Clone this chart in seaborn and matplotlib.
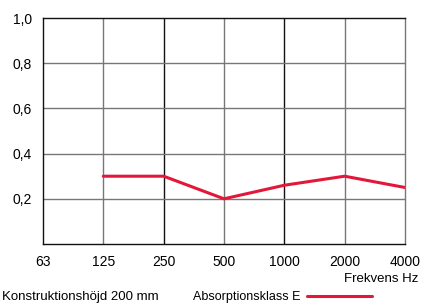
import numpy as np
import pandas as pd
import matplotlib
matplotlib.use("Agg")
import matplotlib.pyplot as plt
import seaborn as sns

freq_labels = ["63", "125", "250", "500", "1000", "2000", "4000"]
freqs = ["125", "250", "500", "1000", "2000", "4000"]
alpha_p = [0.30, 0.30, 0.20, 0.26, 0.30, 0.25]
y_ticks = [0.2, 0.4, 0.6, 0.8, 1.0]
y_labels = ["0,2", "0,4", "0,6", "0,8", "1,0"]

sns.set_theme(style="white")
plt.rcParams["font.family"] = ["Liberation Sans Narrow", "Liberation Sans", "DejaVu Sans"]
plt.rcParams["text.color"] = "black"
plt.rcParams["xtick.color"] = "black"
plt.rcParams["ytick.color"] = "black"

red = "#e3173a"
df = pd.DataFrame({"x": [freq_labels.index(f) for f in freqs], "y": alpha_p})

fig = plt.figure(figsize=(4.32, 3.06), dpi=100)
ax = fig.add_axes([43 / 432, 1 - 244 / 306, 362 / 432, 226 / 306])
sns.lineplot(data=df, x="x", y="y", color=red, linewidth=2.2, ax=ax)

ax.set_xlim(0, len(freq_labels) - 1)
ax.set_ylim(0, 1.0)
ax.set_xticks(range(len(freq_labels)))
ax.set_xticklabels(freq_labels, fontsize=10, color="black")
ax.set_yticks(y_ticks)
ax.set_yticklabels(y_labels, fontsize=10, color="black")
ax.tick_params(axis="x", length=0, pad=8)
ax.tick_params(axis="y", length=0, pad=8)
ax.set_xlabel("")
ax.set_ylabel("")

for i in range(1, len(freq_labels) - 1):
    ax.axvline(i, color="#111111" if i % 2 == 0 else "#777777", lw=1, zorder=0)
for v in y_ticks[:-1]:
    ax.axhline(v, color="#777777", lw=1, zorder=0)
for s in ax.spines.values():
    s.set_color("#111111")
    s.set_linewidth(1)
ax.spines["right"].set_color("#777777")

fig.text(418 / 432, 1 - 279 / 306, "Frekvens Hz", ha="right", va="center", fontsize=9.5)
fig.text(2 / 432, 1 - 297 / 306, "Konstruktionshöjd 200 mm", ha="left", va="center", fontsize=9.5)
fig.text(193 / 432, 1 - 297 / 306, "Absorptionsklass E", ha="left", va="center", fontsize=9)
fig.add_artist(plt.Line2D([307 / 432, 372 / 432], [1 - 296 / 306] * 2, color=red, lw=2.2))

fig.savefig("out.png", dpi=100)
